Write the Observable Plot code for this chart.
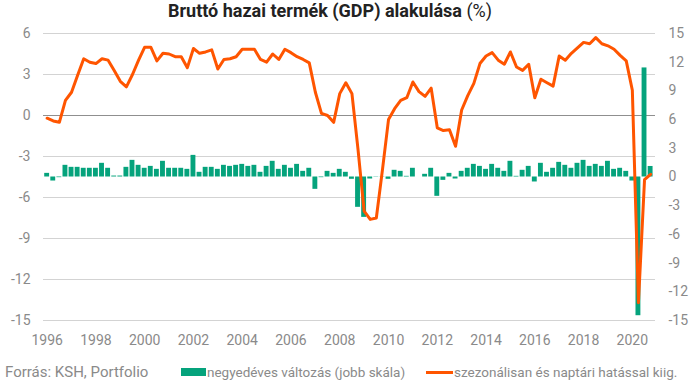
<!DOCTYPE html>
<html>
<head>
<meta charset="utf-8">
<script src="https://cdn.jsdelivr.net/npm/d3@7"></script>
<script src="https://cdn.jsdelivr.net/npm/@observablehq/plot@0.6"></script>
<style>
  html, body { margin: 0; padding: 0; background: #fff; }
  #wrap { position: relative; width: 696px; height: 387px; overflow: hidden; font-family: Roboto, sans-serif; }
  #title { position: absolute; left: 168px; top: 0px; font-size: 18px; font-weight: 700; color: #222; white-space: nowrap; }
  #title span { font-weight: 400; }
  #chart { position: absolute; left: 0; top: 24px; }
  #footer { position: absolute; left: 0; top: 362px; width: 696px; height: 22px; font-size: 14px; color: #8a8a8a; }
  #footer .src { position: absolute; left: 5px; top: 1px; font-size: 15px; }
  #footer .l1 { position: absolute; left: 181px; top: 2px; font-size: 13.5px; }
  #footer .l2 { position: absolute; left: 426px; top: 2px; font-size: 13.5px; }
  .sw1 { display: inline-block; width: 25px; height: 8px; background: #05a37c; vertical-align: 1px; margin-right: 1px; }
  .sw2 { display: inline-block; width: 27px; height: 3px; background: #ff5500; vertical-align: 3px; margin-right: 1px; }
</style>
</head>
<body>
<div id="wrap">
  <div id="title">Bruttó hazai termék (GDP) alakulása <span>(%)</span></div>
  <div id="chart"></div>
  <div id="footer">
    <span class="src">Forrás: KSH, Portfolio</span>
    <span class="l1"><span class="sw1"></span>negyedéves változás (jobb skála)</span>
    <span class="l2"><span class="sw2"></span>szezonálisan és naptári hatással kiig.</span>
  </div>
</div>
<script>
// Quarters 1996 Q1 .. 2020 Q4
const firstYear = 1996;
const lastYear = 2020;

// Year-on-year growth, seasonally & calendar adjusted (left scale, %)
const yoyGrowth = [
  -0.2, -0.4, -0.5, 1.1,   1.7, 2.95, 4.15, 3.9,   3.8, 4.15, 4.05, 3.3,
  2.5, 2.1, 3.0, 4.05,     5.0, 5.0, 4.0, 4.55,    4.5, 4.3, 4.3, 3.5,
  4.9, 4.55, 4.65, 4.8,    3.4, 4.1, 4.15, 4.3,    4.85, 4.85, 4.85, 4.1,
  3.9, 4.5, 4.1, 4.85,     4.6, 4.3, 4.1, 3.85,    1.7, 0.15, 0.0, -0.5,
  1.6, 2.4, 1.6, -2.5,     -7.0, -7.6, -7.5, -4.0, -0.3, 0.5, 1.1, 1.3,
  2.45, 1.75, 1.4, 2.0,    -0.9, -1.1, -1.05, -2.25, 0.4, 1.45, 2.35, 3.8,
  4.35, 4.6, 4.05, 3.75,   4.65, 3.55, 3.3, 3.75,  1.3, 2.65, 2.4, 2.15,
  4.35, 4.05, 4.55, 4.95,  5.35, 5.25, 5.7, 5.25,  5.1, 4.85, 4.4, 4.0,
  1.85, -13.7, -4.7, -4.3
];

// Quarter-on-quarter change (right scale, %)
const qoqChange = [
  0.38, -0.42, -0.07, 1.22,  1.01, 1.01, 0.91, 0.91,  0.91, 1.43, 0.91, 0.1,
  0.1, 1.01, 1.74, 1.22,     0.91, 1.11, 0.8, 1.64,   0.91, 0.91, 0.91, 0.8,
  2.26, 0.49, 1.01, 1.01,    0.8, 1.22, 1.11, 1.22,   1.32, 1.11, 1.22, 0.49,
  1.11, 1.64, 0.8, 1.22,     0.91, 1.32, 0.59, 0.91,  -1.29, -0.07, 0.59, 0.38,
  0.8, 0.49, -0.24, -3.17,   -4.22, -0.21, -0.03, 0.03, -0.24, 0.7, 0.59, 0.07,
  0.91, 0.0, 0.28, 0.91,     -2.02, -0.35, 0.38, -0.21, 0.59, 0.91, 1.32, 1.11,
  0.8, 1.32, 0.91, 0.59,     1.64, 0.07, 0.7, 1.11,   -0.52, 1.43, 0.49, 0.91,
  1.53, 1.22, 0.91, 1.43,    1.74, 1.11, 1.32, 1.11,  1.64, 0.8, 0.91, 0.59,
  -0.42, -14.5, 11.4, 1.1
];

const leftTicks = [6, 3, 0, -3, -6, -9, -12, -15];
const rightTicks = [15, 12, 9, 6, 3, 0, -3, -6, -9, -12, -15];
const yearTicks = [1996, 1998, 2000, 2002, 2004, 2006, 2008, 2010, 2012, 2014, 2016, 2018, 2020];

// Right scale [-15, 15] is drawn on the left scale [-15, 6]
const leftMin = -15, leftMax = 6, rightMin = -15, rightMax = 15;
const toLeft = r => leftMin + (r - rightMin) * (leftMax - leftMin) / (rightMax - rightMin);
const toRight = l => rightMin + (l - leftMin) * (rightMax - rightMin) / (leftMax - leftMin);

const quarters = [];
for (let y = firstYear; y <= lastYear; y++) for (let q = 1; q <= 4; q++) quarters.push({year: y, q});
const data = quarters.map((d, i) => ({
  t: d.year + (d.q - 1) / 4,
  yoy: yoyGrowth[i],
  qoq: qoqChange[i]
}));

const barHalf = 0.1;
const zeroRight = toLeft(0);

const chart = Plot.plot({
  width: 696,
  height: 336,
  marginLeft: 43,
  marginRight: 41,
  marginTop: 9,
  marginBottom: 40,
  style: {fontFamily: "Roboto, sans-serif", fontSize: "14px", color: "#8a8a8a", background: "#fff"},
  x: {domain: [1995.85, 2020.95], axis: null},
  y: {domain: [leftMin, leftMax], axis: null},
  marks: [
    Plot.ruleY(leftTicks.filter(d => d !== 0), {stroke: "#d3d3d3", strokeWidth: 1.2}),
    Plot.ruleY([0], {stroke: "#8f8f8f", strokeWidth: 1.2}),
    Plot.rect(data, {
      x1: d => d.t - barHalf,
      x2: d => d.t + barHalf,
      y1: () => zeroRight,
      y2: d => toLeft(d.qoq),
      fill: "#05a37c"
    }),
    Plot.line(data, {x: "t", y: "yoy", stroke: "#ff5500", strokeWidth: 3, strokeLinejoin: "round"}),
    Plot.axisY(leftTicks, {anchor: "left", label: null, tickSize: 0, tickPadding: 13, tickFormat: d => String(d), fill: "#8a8a8a"}),
    Plot.axisY(rightTicks.map(toLeft), {anchor: "right", label: null, tickSize: 0, tickPadding: 13,
      tickFormat: d => String(Math.round(toRight(d))), fill: "#8a8a8a"}),
    Plot.axisX(yearTicks, {anchor: "bottom", label: null, tickSize: 0, tickPadding: 15, tickFormat: d => String(d), fill: "#8a8a8a"})
  ]
});
document.getElementById("chart").appendChild(chart);
</script>
</body>
</html>
